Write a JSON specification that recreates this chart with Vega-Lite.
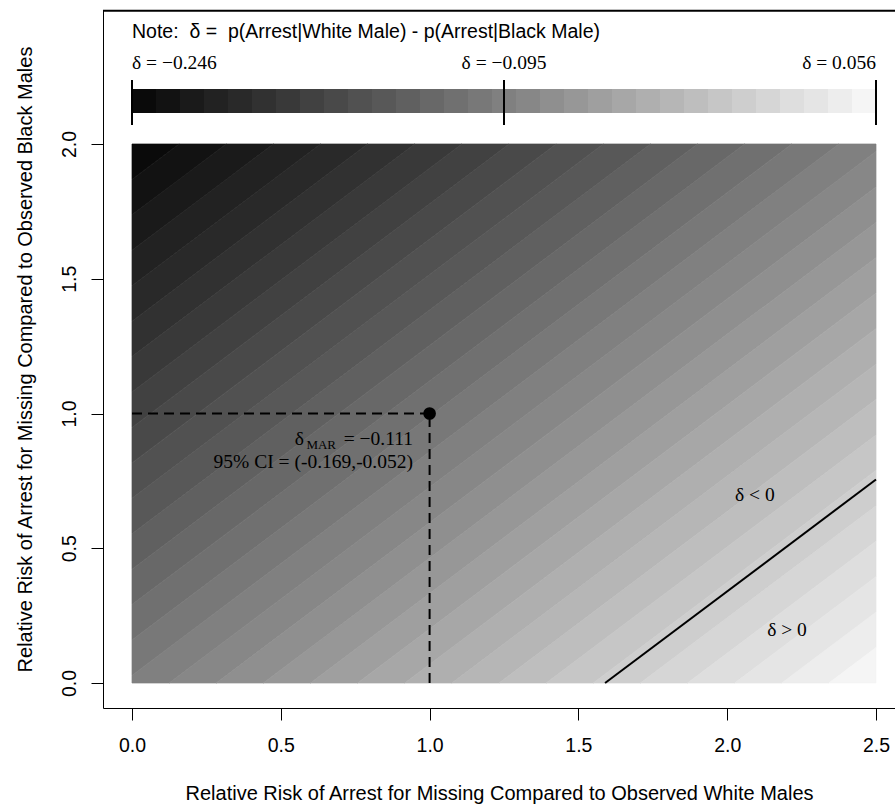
{
  "$schema": "https://vega.github.io/schema/vega-lite/v6.json",
  "width": 792,
  "height": 698,
  "autosize": "none",
  "padding": {"left": 103, "top": 10, "right": 0, "bottom": 98},
  "background": "white",
  "config": {"view": {"stroke": null}, "font": "Liberation Sans"},
  "datasets": {
    "bands": [
      {"b": 0, "x": 0, "y": 1.86853, "y2": 2},
      {"b": 0, "x": 0.15836, "y": 2, "y2": 2},
      {"b": 1, "x": 0, "y": 1.73706, "y2": 1.86853},
      {"b": 1, "x": 0.15836, "y": 1.86853, "y2": 2},
      {"b": 1, "x": 0.31672, "y": 2, "y2": 2},
      {"b": 2, "x": 0, "y": 1.60559, "y2": 1.73706},
      {"b": 2, "x": 0.31672, "y": 1.86853, "y2": 2},
      {"b": 2, "x": 0.47508, "y": 2, "y2": 2},
      {"b": 3, "x": 0, "y": 1.47412, "y2": 1.60559},
      {"b": 3, "x": 0.47508, "y": 1.86853, "y2": 2},
      {"b": 3, "x": 0.63344, "y": 2, "y2": 2},
      {"b": 4, "x": 0, "y": 1.34265, "y2": 1.47412},
      {"b": 4, "x": 0.63344, "y": 1.86853, "y2": 2},
      {"b": 4, "x": 0.79181, "y": 2, "y2": 2},
      {"b": 5, "x": 0, "y": 1.21117, "y2": 1.34265},
      {"b": 5, "x": 0.79181, "y": 1.86853, "y2": 2},
      {"b": 5, "x": 0.95017, "y": 2, "y2": 2},
      {"b": 6, "x": 0, "y": 1.0797, "y2": 1.21117},
      {"b": 6, "x": 0.95017, "y": 1.86853, "y2": 2},
      {"b": 6, "x": 1.10853, "y": 2, "y2": 2},
      {"b": 7, "x": 0, "y": 0.94823, "y2": 1.0797},
      {"b": 7, "x": 1.10853, "y": 1.86853, "y2": 2},
      {"b": 7, "x": 1.26689, "y": 2, "y2": 2},
      {"b": 8, "x": 0, "y": 0.81676, "y2": 0.94823},
      {"b": 8, "x": 1.26689, "y": 1.86853, "y2": 2},
      {"b": 8, "x": 1.42525, "y": 2, "y2": 2},
      {"b": 9, "x": 0, "y": 0.68529, "y2": 0.81676},
      {"b": 9, "x": 1.42525, "y": 1.86853, "y2": 2},
      {"b": 9, "x": 1.58361, "y": 2, "y2": 2},
      {"b": 10, "x": 0, "y": 0.55382, "y2": 0.68529},
      {"b": 10, "x": 1.58361, "y": 1.86853, "y2": 2},
      {"b": 10, "x": 1.74197, "y": 2, "y2": 2},
      {"b": 11, "x": 0, "y": 0.42235, "y2": 0.55382},
      {"b": 11, "x": 1.74197, "y": 1.86853, "y2": 2},
      {"b": 11, "x": 1.90033, "y": 2, "y2": 2},
      {"b": 12, "x": 0, "y": 0.29088, "y2": 0.42235},
      {"b": 12, "x": 1.90033, "y": 1.86853, "y2": 2},
      {"b": 12, "x": 2.05869, "y": 2, "y2": 2},
      {"b": 13, "x": 0, "y": 0.15941, "y2": 0.29088},
      {"b": 13, "x": 2.05869, "y": 1.86853, "y2": 2},
      {"b": 13, "x": 2.21705, "y": 2, "y2": 2},
      {"b": 14, "x": 0, "y": 0.02794, "y2": 0.15941},
      {"b": 14, "x": 2.21705, "y": 1.86853, "y2": 2},
      {"b": 14, "x": 2.37542, "y": 2, "y2": 2},
      {"b": 15, "x": 0, "y": 0, "y2": 0.02794},
      {"b": 15, "x": 0.12472, "y": 0, "y2": 0.13148},
      {"b": 15, "x": 2.37542, "y": 1.86853, "y2": 2},
      {"b": 15, "x": 2.5, "y": 1.97196, "y2": 2},
      {"b": 16, "x": 0.12472, "y": 0, "y2": 0},
      {"b": 16, "x": 0.28308, "y": 0, "y2": 0.13147},
      {"b": 16, "x": 2.5, "y": 1.84049, "y2": 1.97196},
      {"b": 17, "x": 0.28308, "y": 0, "y2": 0},
      {"b": 17, "x": 0.44144, "y": 0, "y2": 0.13147},
      {"b": 17, "x": 2.5, "y": 1.70902, "y2": 1.84049},
      {"b": 18, "x": 0.44144, "y": 0, "y2": 0},
      {"b": 18, "x": 0.5998, "y": 0, "y2": 0.13147},
      {"b": 18, "x": 2.5, "y": 1.57755, "y2": 1.70902},
      {"b": 19, "x": 0.5998, "y": 0, "y2": 0},
      {"b": 19, "x": 0.75816, "y": 0, "y2": 0.13147},
      {"b": 19, "x": 2.5, "y": 1.44608, "y2": 1.57755},
      {"b": 20, "x": 0.75816, "y": 0, "y2": 0},
      {"b": 20, "x": 0.91652, "y": 0, "y2": 0.13147},
      {"b": 20, "x": 2.5, "y": 1.31461, "y2": 1.44608},
      {"b": 21, "x": 0.91652, "y": 0, "y2": 0},
      {"b": 21, "x": 1.07488, "y": 0, "y2": 0.13147},
      {"b": 21, "x": 2.5, "y": 1.18314, "y2": 1.31461},
      {"b": 22, "x": 1.07488, "y": 0, "y2": 0},
      {"b": 22, "x": 1.23324, "y": 0, "y2": 0.13147},
      {"b": 22, "x": 2.5, "y": 1.05167, "y2": 1.18314},
      {"b": 23, "x": 1.23324, "y": 0, "y2": 0},
      {"b": 23, "x": 1.3916, "y": 0, "y2": 0.13147},
      {"b": 23, "x": 2.5, "y": 0.9202, "y2": 1.05167},
      {"b": 24, "x": 1.3916, "y": 0, "y2": 0},
      {"b": 24, "x": 1.54997, "y": 0, "y2": 0.13147},
      {"b": 24, "x": 2.5, "y": 0.78873, "y2": 0.9202},
      {"b": 25, "x": 1.54997, "y": 0, "y2": 0},
      {"b": 25, "x": 1.70833, "y": 0, "y2": 0.13147},
      {"b": 25, "x": 2.5, "y": 0.65725, "y2": 0.78873},
      {"b": 26, "x": 1.70833, "y": 0, "y2": 0},
      {"b": 26, "x": 1.86669, "y": 0, "y2": 0.13147},
      {"b": 26, "x": 2.5, "y": 0.52578, "y2": 0.65725},
      {"b": 27, "x": 1.86669, "y": 0, "y2": 0},
      {"b": 27, "x": 2.02505, "y": 0, "y2": 0.13147},
      {"b": 27, "x": 2.5, "y": 0.39431, "y2": 0.52578},
      {"b": 28, "x": 2.02505, "y": 0, "y2": 0},
      {"b": 28, "x": 2.18341, "y": 0, "y2": 0.13147},
      {"b": 28, "x": 2.5, "y": 0.26284, "y2": 0.39431},
      {"b": 29, "x": 2.18341, "y": 0, "y2": 0},
      {"b": 29, "x": 2.34177, "y": 0, "y2": 0.13147},
      {"b": 29, "x": 2.5, "y": 0.13137, "y2": 0.26284},
      {"b": 30, "x": 2.34177, "y": 0, "y2": 0},
      {"b": 30, "x": 2.5, "y": 0, "y2": 0.13137}
    ],
    "bar": [
      {"b": 0, "x": 0, "x2": 0.08065},
      {"b": 1, "x": 0.08065, "x2": 0.16129},
      {"b": 2, "x": 0.16129, "x2": 0.24194},
      {"b": 3, "x": 0.24194, "x2": 0.32258},
      {"b": 4, "x": 0.32258, "x2": 0.40323},
      {"b": 5, "x": 0.40323, "x2": 0.48387},
      {"b": 6, "x": 0.48387, "x2": 0.56452},
      {"b": 7, "x": 0.56452, "x2": 0.64516},
      {"b": 8, "x": 0.64516, "x2": 0.72581},
      {"b": 9, "x": 0.72581, "x2": 0.80645},
      {"b": 10, "x": 0.80645, "x2": 0.8871},
      {"b": 11, "x": 0.8871, "x2": 0.96774},
      {"b": 12, "x": 0.96774, "x2": 1.04839},
      {"b": 13, "x": 1.04839, "x2": 1.12903},
      {"b": 14, "x": 1.12903, "x2": 1.20968},
      {"b": 15, "x": 1.20968, "x2": 1.29032},
      {"b": 16, "x": 1.29032, "x2": 1.37097},
      {"b": 17, "x": 1.37097, "x2": 1.45161},
      {"b": 18, "x": 1.45161, "x2": 1.53226},
      {"b": 19, "x": 1.53226, "x2": 1.6129},
      {"b": 20, "x": 1.6129, "x2": 1.69355},
      {"b": 21, "x": 1.69355, "x2": 1.77419},
      {"b": 22, "x": 1.77419, "x2": 1.85484},
      {"b": 23, "x": 1.85484, "x2": 1.93548},
      {"b": 24, "x": 1.93548, "x2": 2.01613},
      {"b": 25, "x": 2.01613, "x2": 2.09677},
      {"b": 26, "x": 2.09677, "x2": 2.17742},
      {"b": 27, "x": 2.17742, "x2": 2.25806},
      {"b": 28, "x": 2.25806, "x2": 2.33871},
      {"b": 29, "x": 2.33871, "x2": 2.41935},
      {"b": 30, "x": 2.41935, "x2": 2.5}
    ],
    "barticks": [{"x": 0}, {"x": 1.25}, {"x": 2.5}],
    "dashes": [
      {"x": 0, "x2": 1, "y": 1, "y2": 1},
      {"x": 1, "x2": 1, "y": 0, "y2": 1}
    ],
    "lines": [
      {"x": 1.5896, "x2": 2.5, "y": 0, "y2": 0.755},
      {"x": -0.0975, "x2": 2.56384, "y": 2.4945, "y2": 2.4945}
    ],
    "mar": [{"x": 1, "y": 1}]
  },
  "layer": [
    {
      "data": {"name": "bands"},
      "mark": {"type": "area", "interpolate": "linear", "strokeWidth": 0.7},
      "encoding": {
        "x": {
          "field": "x", "type": "quantitative",
          "scale": {"domain": [-0.09745, 2.56384], "nice": false, "zero": false},
          "axis": {
            "title": "Relative Risk of Arrest for Missing Compared to Observed White Males",
            "values": [0, 0.5, 1, 1.5, 2, 2.5], "format": ".1f", "grid": false,
            "tickSize": 12, "tickColor": "black", "domainColor": "black", "tickWidth": 1,
            "labelFontSize": 19.5, "labelColor": "black", "labelPadding": 16,
            "titleFontSize": 20, "titleFontWeight": "normal", "titleColor": "black", "titlePadding": 29
          }
        },
        "y": {
          "field": "y", "type": "quantitative", "stack": null,
          "scale": {"domain": [-0.09276, 2.49722], "nice": false, "zero": false},
          "axis": {
            "title": "Relative Risk of Arrest for Missing Compared to Observed Black Males",
            "values": [0, 0.5, 1, 1.5, 2], "format": ".1f", "grid": false,
            "tickSize": 12, "tickColor": "black", "domainColor": "black", "tickWidth": 1,
            "labelFontSize": 19.5, "labelColor": "black", "labelPadding": 12, "labelAngle": -90,
            "labelAlign": "center", "labelBaseline": "bottom",
            "titleFontSize": 20, "titleFontWeight": "normal", "titleColor": "black", "titlePadding": 24
          }
        },
        "y2": {"field": "y2"},
        "detail": {"field": "b"},
        "color": {
          "field": "b", "type": "quantitative", "legend": null,
          "scale": {"domain": [0, 30], "range": ["#0a0a0a", "#f5f5f5"], "interpolate": "rgb"}
        },
        "stroke": {
          "field": "b", "type": "quantitative", "legend": null,
          "scale": {"domain": [0, 30], "range": ["#0a0a0a", "#f5f5f5"], "interpolate": "rgb"}
        }
      }
    },
    {
      "data": {"name": "bar"},
      "mark": {"type": "rect"},
      "encoding": {
        "x": {"field": "x", "type": "quantitative"},
        "x2": {"field": "x2"},
        "y": {"datum": 2.115},
        "y2": {"datum": 2.2041},
        "color": {"field": "b", "type": "quantitative", "legend": null}
      }
    },
    {
      "data": {"name": "barticks"},
      "mark": {"type": "rule", "strokeWidth": 2, "color": "black"},
      "encoding": {
        "x": {"field": "x", "type": "quantitative"},
        "y": {"datum": 2.0705},
        "y2": {"datum": 2.2375}
      }
    },
    {
      "data": {"name": "dashes"},
      "mark": {"type": "rule", "strokeWidth": 2, "color": "black", "strokeDash": [10, 6]},
      "encoding": {
        "x": {"field": "x", "type": "quantitative"},
        "x2": {"field": "x2"},
        "y": {"field": "y", "type": "quantitative"},
        "y2": {"field": "y2"}
      }
    },
    {
      "data": {"name": "lines"},
      "mark": {"type": "rule", "strokeWidth": 2, "color": "black"},
      "encoding": {
        "x": {"field": "x", "type": "quantitative"},
        "x2": {"field": "x2"},
        "y": {"field": "y", "type": "quantitative"},
        "y2": {"field": "y2"},
        "strokeWidth": {"field": "y", "type": "quantitative", "legend": null, "scale": {"type": "threshold", "domain": [1], "range": [2, 1.3]}}
      }
    },
    {
      "data": {"name": "mar"},
      "mark": {"type": "point", "filled": true, "size": 160, "color": "black", "opacity": 1},
      "encoding": {
        "x": {"field": "x", "type": "quantitative"},
        "y": {"field": "y", "type": "quantitative"}
      }
    },
    {
      "data": {"values": [{"x": 0, "y": 2.4156, "t": "Note:\u00a0 δ =\u00a0 p(Arrest|White Male) - p(Arrest|Black Male)"}]},
      "mark": {"type": "text", "align": "left", "baseline": "middle", "fontSize": 19.5, "font": "Liberation Sans", "color": "black"},
      "encoding": {"x": {"field": "x", "type": "quantitative"}, "y": {"field": "y", "type": "quantitative"}, "text": {"field": "t"}}
    },
    {
      "data": {"values": [{"x": 0, "y": 2.3006, "t": "δ = −0.246"}]},
      "mark": {"type": "text", "align": "left", "baseline": "middle", "fontSize": 19.5, "font": "Liberation Serif", "color": "black"},
      "encoding": {"x": {"field": "x", "type": "quantitative"}, "y": {"field": "y", "type": "quantitative"}, "text": {"field": "t"}}
    },
    {
      "data": {"values": [{"x": 1.25, "y": 2.3006, "t": "δ = −0.095"}]},
      "mark": {"type": "text", "align": "center", "baseline": "middle", "fontSize": 19.5, "font": "Liberation Serif", "color": "black"},
      "encoding": {"x": {"field": "x", "type": "quantitative"}, "y": {"field": "y", "type": "quantitative"}, "text": {"field": "t"}}
    },
    {
      "data": {"values": [{"x": 2.5, "y": 2.3006, "t": "δ = 0.056"}]},
      "mark": {"type": "text", "align": "right", "baseline": "middle", "fontSize": 19.5, "font": "Liberation Serif", "color": "black"},
      "encoding": {"x": {"field": "x", "type": "quantitative"}, "y": {"field": "y", "type": "quantitative"}, "text": {"field": "t"}}
    },
    {
      "data": {"values": [
        {"x": 0.9442, "y": 0.9054, "t": "= −0.111"},
        {"x": 0.9442, "y": 0.82, "t": "95% CI = (-0.169,-0.052)"},
        {"x": 0.578, "y": 0.9054, "t": "δ"}
      ]},
      "mark": {"type": "text", "align": "right", "baseline": "middle", "fontSize": 19.5, "font": "Liberation Serif", "color": "black"},
      "encoding": {"x": {"field": "x", "type": "quantitative"}, "y": {"field": "y", "type": "quantitative"}, "text": {"field": "t"}}
    },
    {
      "data": {"values": [{"x": 0.6855, "y": 0.8831, "t": "MAR"}]},
      "mark": {"type": "text", "align": "right", "baseline": "middle", "fontSize": 13, "font": "Liberation Serif", "color": "black"},
      "encoding": {"x": {"field": "x", "type": "quantitative"}, "y": {"field": "y", "type": "quantitative"}, "text": {"field": "t"}}
    },
    {
      "data": {"values": [
        {"x": 2.093, "y": 0.698, "t": "δ < 0"},
        {"x": 2.201, "y": 0.197, "t": "δ > 0"}
      ]},
      "mark": {"type": "text", "align": "center", "baseline": "middle", "fontSize": 19.5, "font": "Liberation Serif", "color": "black"},
      "encoding": {"x": {"field": "x", "type": "quantitative"}, "y": {"field": "y", "type": "quantitative"}, "text": {"field": "t"}}
    }
  ]
}
